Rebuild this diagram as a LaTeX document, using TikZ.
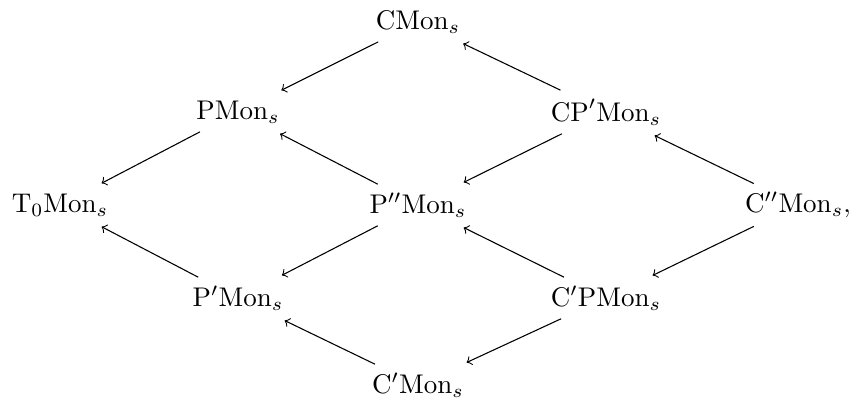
\documentclass[tikz,border=0pt]{standalone}
\begin{document}
\begin{tikzpicture}
  [auto=left,every node/.style={inner sep=3pt}]
  \useasboundingbox (0,0) rectangle (11.094,-5.208);
  \node (cmon) at (5.443,-0.286) {$\mathrm{CMon}_s$};
  \node (pmon) at (3.099,-1.458) {$\mathrm{PMon}_s$};
  \node (cpmon) at (7.891,-1.458) {$\mathrm{CP}'\mathrm{Mon}_s$};
  \node (tmon) at (0.781,-2.669) {$\mathrm{T}_0\mathrm{Mon}_s$};
  \node (ppmon) at (5.443,-2.669) {$\mathrm{P}''\mathrm{Mon}_s$};
  \node (ccmon) at (10.391,-2.669) {$\mathrm{C}''\mathrm{Mon}_s,$};
  \node (p1mon) at (3.099,-3.88) {$\mathrm{P}'\mathrm{Mon}_s$};
  \node (cp1mon) at (7.891,-3.88) {$\mathrm{C}'\mathrm{PMon}_s$};
  \node (c1mon) at (5.443,-5.013) {$\mathrm{C}'\mathrm{Mon}_s$};
 \path[->, draw, shorten >=1.5pt] 
        (cmon) edge (pmon)
        (cpmon) edge (cmon)
        (pmon) edge (tmon)
        (ppmon) edge (pmon)
        (cpmon) edge (ppmon)
        (ccmon) edge (cpmon)
        (p1mon) edge (tmon)
        (ppmon) edge (p1mon)
        (cp1mon) edge (ppmon)
        (ccmon) edge (cp1mon)
        (c1mon) edge (p1mon)
        (cp1mon) edge (c1mon);

\end{tikzpicture}
\end{document}
